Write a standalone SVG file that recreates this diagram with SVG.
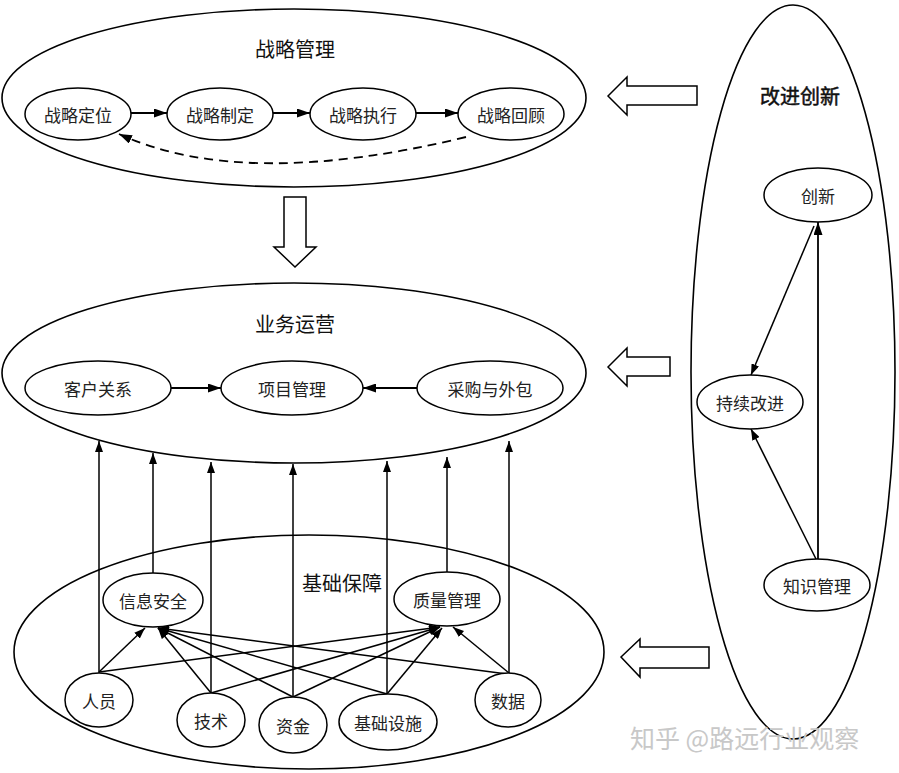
<svg xmlns="http://www.w3.org/2000/svg" width="899" height="773" viewBox="0 0 899 773">
<style>
.bg{fill:#fff}
.big{fill:none;stroke:#000;stroke-width:1.6}
.nd{fill:#fff;stroke:#000;stroke-width:1.5}
.t{font-family:"Noto Sans CJK SC","Noto Sans CJK JP",sans-serif;font-size:17px;fill:#222;text-anchor:middle;dominant-baseline:central}
.ttl{font-family:"Noto Sans CJK SC","Noto Sans CJK JP",sans-serif;font-size:20px;fill:#111;text-anchor:middle;dominant-baseline:central}
.ln{fill:none;stroke:#000;stroke-width:1.5;marker-end:url(#ah)}
.lnb{fill:none;stroke:#000;stroke-width:1.8;marker-end:url(#ahb)}
.dash{fill:none;stroke:#000;stroke-width:1.8;stroke-dasharray:9,6;marker-end:url(#ahb)}
.hollow{fill:#fff;stroke:#000;stroke-width:1.5;stroke-linejoin:miter}
.wm{font-family:"Noto Sans CJK SC",sans-serif;font-size:25px;fill:#c8c8c8;dominant-baseline:central}
</style>
<defs>
<marker id="ah" markerUnits="userSpaceOnUse" markerWidth="11" markerHeight="8" refX="11" refY="4" orient="auto">
<path d="M0,0 L11,4 L0,8 z" fill="#000"/>
</marker>
<marker id="ahb" markerUnits="userSpaceOnUse" markerWidth="13" markerHeight="9" refX="13" refY="4.5" orient="auto">
<path d="M0,0 L13,4.5 L0,9 z" fill="#000"/>
</marker>
</defs>
<rect class="bg" x="0" y="0" width="899" height="773"/>

<g id="strategy">
<ellipse class="big" cx="294" cy="98" rx="292" ry="89"/>
<text class="ttl" x="295" y="48">战略管理</text>
</g>
<g id="operations">
<ellipse class="big" cx="294" cy="373" rx="292" ry="90"/>
<text class="ttl" x="295" y="323">业务运营</text>
</g>
<g id="foundation">
<ellipse class="big" cx="309" cy="652" rx="295" ry="117"/>
<text class="ttl" x="342" y="582">基础保障</text>
</g>
<g id="innovation">
<ellipse class="big" cx="793" cy="372" rx="102" ry="367"/>
<text class="ttl" x="800" y="95" stroke="#111" stroke-width="0.5">改进创新</text>
</g>

<g id="connectors">
<line class="lnb" x1="131" y1="113" x2="167" y2="113"/>
<line class="lnb" x1="273" y1="113" x2="310" y2="113"/>
<line class="lnb" x1="416" y1="113" x2="458" y2="113"/>
<path class="dash" d="M466,137 Q243,191 119,134"/>

<line class="lnb" x1="171" y1="388" x2="221" y2="388"/>
<line class="lnb" x1="417" y1="388" x2="363" y2="388"/>

<line class="ln" x1="99" y1="673" x2="99" y2="441"/>
<line class="ln" x1="153" y1="573" x2="153" y2="453"/>
<line class="ln" x1="211" y1="693" x2="211" y2="462"/>
<line class="ln" x1="293" y1="697" x2="293" y2="464"/>
<line class="ln" x1="387" y1="694" x2="387" y2="461"/>
<line class="ln" x1="447" y1="572" x2="447" y2="457"/>
<line class="ln" x1="509" y1="673" x2="509" y2="441"/>

<line class="ln" x1="99" y1="672" x2="145" y2="628"/>
<line class="ln" x1="99" y1="672" x2="440" y2="627"/>
<line class="ln" x1="211" y1="693" x2="158" y2="628"/>
<line class="ln" x1="211" y1="693" x2="440" y2="627"/>
<line class="ln" x1="293" y1="697" x2="158" y2="628"/>
<line class="ln" x1="293" y1="697" x2="440" y2="627"/>
<line class="ln" x1="387" y1="694" x2="158" y2="628"/>
<line class="ln" x1="387" y1="694" x2="442" y2="628"/>
<line class="ln" x1="507" y1="674" x2="158" y2="628"/>
<line class="ln" x1="509" y1="673" x2="453" y2="627"/>

<line class="lnb" x1="818" y1="559" x2="818" y2="222"/>
<line class="ln" x1="814" y1="226" x2="751" y2="375"/>
<line class="ln" x1="816" y1="559" x2="751" y2="429"/>

<polygon class="hollow" points="284,197 306,197 306,247 316,247 295,267 274,247 284,247"/>
<polygon class="hollow" points="608,96 627,77 627,86 697,86 697,105 627,105 627,115"/>
<polygon class="hollow" points="608,367 627,348 627,357 670,357 670,376 627,376 627,386"/>
<polygon class="hollow" points="621,657 640,639 640,647 709,647 709,668 640,668 640,677"/>
</g>

<g id="n-dingwei"><ellipse class="nd" cx="78" cy="114" rx="53" ry="26"/><text class="t" x="78" y="114">战略定位</text></g>
<g id="n-zhiding"><ellipse class="nd" cx="220" cy="114" rx="53" ry="26"/><text class="t" x="220" y="114">战略制定</text></g>
<g id="n-zhixing"><ellipse class="nd" cx="363" cy="114" rx="53" ry="26"/><text class="t" x="363" y="114">战略执行</text></g>
<g id="n-huigu"><ellipse class="nd" cx="511" cy="114" rx="53" ry="26"/><text class="t" x="511" y="114">战略回顾</text></g>

<g id="n-kehu"><ellipse class="nd" cx="98" cy="388" rx="73" ry="27"/><text class="t" x="98" y="388">客户关系</text></g>
<g id="n-xiangmu"><ellipse class="nd" cx="292" cy="388" rx="71" ry="27"/><text class="t" x="292" y="388">项目管理</text></g>
<g id="n-caigou"><ellipse class="nd" cx="490" cy="388" rx="73" ry="27"/><text class="t" x="490" y="388">采购与外包</text></g>

<g id="n-xinxi"><ellipse class="nd" cx="153" cy="600" rx="50" ry="27"/><text class="t" x="153" y="600">信息安全</text></g>
<g id="n-zhiliang"><ellipse class="nd" cx="447" cy="599" rx="53" ry="27"/><text class="t" x="447" y="599">质量管理</text></g>
<g id="n-renyuan"><ellipse class="nd" cx="99" cy="700" rx="34" ry="27"/><text class="t" x="99" y="700">人员</text></g>
<g id="n-jishu"><ellipse class="nd" cx="211" cy="720" rx="34" ry="27"/><text class="t" x="211" y="720">技术</text></g>
<g id="n-zijin"><ellipse class="nd" cx="293" cy="725" rx="34" ry="28"/><text class="t" x="293" y="725">资金</text></g>
<g id="n-jichu"><ellipse class="nd" cx="388" cy="722" rx="49" ry="28"/><text class="t" x="388" y="722">基础设施</text></g>
<g id="n-shuju"><ellipse class="nd" cx="508" cy="700" rx="33" ry="27"/><text class="t" x="508" y="700">数据</text></g>

<g id="n-chuangxin"><ellipse class="nd" cx="818" cy="195" rx="54" ry="27"/><text class="t" x="818" y="195">创新</text></g>
<g id="n-chixu"><ellipse class="nd" cx="750" cy="402" rx="53" ry="27"/><text class="t" x="750" y="402">持续改进</text></g>
<g id="n-zhishi"><ellipse class="nd" cx="817" cy="585" rx="53" ry="26"/><text class="t" x="817" y="585">知识管理</text></g>

<text class="wm" x="630" y="737">知乎 @路远行业观察</text>
</svg>
